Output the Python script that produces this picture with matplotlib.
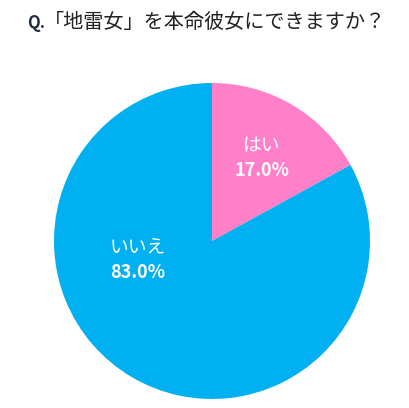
import matplotlib
matplotlib.use("Agg")
import matplotlib.pyplot as plt

plt.rcParams['font.family'] = ['Noto Sans CJK JP', 'DejaVu Sans']

# data
categories = ["はい", "いいえ"]
values = [17.0, 83.0]
colors = ["#FF80C8", "#00B0F0"]
title_q = "Q."
title_text = "「地雷女」を本命彼女にできますか？"

fig = plt.figure(figsize=(4.10, 4.08), dpi=100)
ax = fig.add_axes([0, 0, 1, 1])

cx, cy, r = 212, 167, 158
wedges, _ = ax.pie(values, colors=colors, startangle=90, counterclock=False,
                   center=(cx, cy), radius=r, frame=True,
                   wedgeprops=dict(linewidth=0))
ax.set_xlim(0, 410)
ax.set_ylim(0, 408)
ax.set_aspect("equal")
ax.axis("off")

# label offsets from the pie centre
offsets = [(50, 83), (-74, -19)]
for name, v, (dx, dy) in zip(categories, values, offsets):
    ax.text(cx + dx, cy + dy + 13, name, color="white", fontsize=13.5,
            ha="center", va="center")
    ax.text(cx + dx, cy + dy - 13, f"{v:.1f}%", color="white", fontsize=13,
            fontweight="bold", ha="center", va="center")

fig.text(27 / 410, 1 - 23 / 408, title_q, color="#1F2A44", fontsize=12,
         fontweight="bold", ha="left", va="center")
fig.text(44 / 410, 1 - 22 / 408, title_text, color="#222222", fontsize=14.5,
         ha="left", va="center")

fig.savefig("out.png", dpi=100)
